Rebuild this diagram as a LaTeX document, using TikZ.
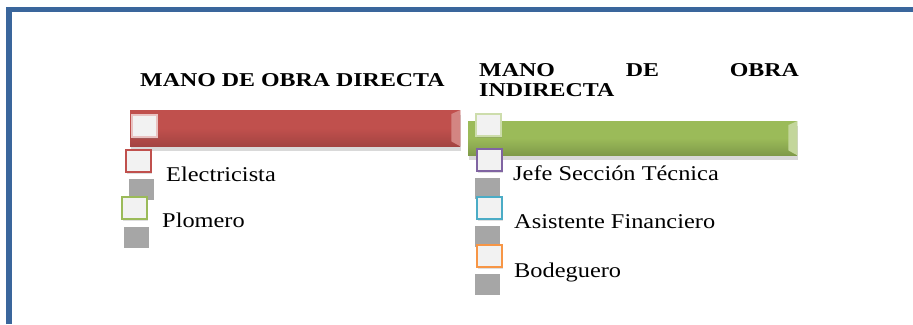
\documentclass[tikz,border=0pt]{standalone}
\usepackage{fontspec}
\setmainfont{Liberation Serif}
\usetikzlibrary{shadows}

\definecolor{frameblue}{HTML}{3A669C}
\definecolor{barred}{HTML}{C0504D}
\definecolor{bargreen}{HTML}{9BBB59}
\definecolor{boxpurple}{HTML}{8064A2}
\definecolor{boxcyan}{HTML}{4BACC6}
\definecolor{boxorange}{HTML}{F79646}

\begin{document}
\begin{tikzpicture}[x=1pt,y=-1pt]
	\tikzstyle{every node}+=[inner sep=0pt]
	\tikzstyle{bar}=[rectangle, anchor=north west, drop shadow={shadow xshift=1pt,shadow yshift=-5pt,opacity=0.3}]
	\tikzstyle{tick}=[rectangle, anchor=north west, fill=black!5, line width=1.6pt, minimum width=25pt, minimum height=22pt, drop shadow={shadow xshift=1pt,shadow yshift=-2pt,opacity=0.25}]
	\tikzstyle{blank}=[rectangle, anchor=north west, fill=black!35, minimum width=25pt, minimum height=21pt]
	\tikzstyle{lbl}=[anchor=base west, font=\fontsize{21}{24}\selectfont, xscale=1.16, transform shape]
	\tikzstyle{head}=[anchor=base west, font=\fontsize{19.6}{20}\selectfont\bfseries, xscale=1.22, transform shape]
	\useasboundingbox (0,0) rectangle (913,324);
	% frame
	\draw [frameblue, line width=5.5pt] (9,324) -- (9,9.5) -- (913,9.5);
	% titles
	\node [head] (dirtitle) at (140,86) {MANO DE OBRA DIRECTA};
	\node [head, text width=262pt, align=left] (indtitle) at (479,76) {MANO\hfill DE\hfill OBRA\\INDIRECTA};
	% bars
	\node [bar, top color=barred, bottom color=barred!85!black, middle color=barred, minimum width=330pt, minimum height=36pt] (dirbar) at (130,110) {};
	\fill [barred!70!white] ([xshift=-9pt,yshift=-4pt]dirbar.north east) -- (dirbar.north east) -- (dirbar.south east) -- ([xshift=-9pt,yshift=5pt]dirbar.south east) -- cycle;
	\node [bar, top color=bargreen, bottom color=bargreen!82!black, middle color=bargreen, minimum width=329pt, minimum height=34pt] (indbar) at (468,121) {};
	\fill [bargreen!60!white] ([xshift=-9pt,yshift=-4pt]indbar.north east) -- (indbar.north east) -- (indbar.south east) -- ([xshift=-9pt,yshift=5pt]indbar.south east) -- cycle;
	% grey gaps
	\node [blank] (elecgap) at (129,179) {};
	\node [blank] (plomgap) at (124,227) {};
	\node [blank] (jefegap) at (475,178) {};
	\node [blank] (asisgap) at (475,226) {};
	\node [blank] (bodegap) at (475,274) {};
	% marks
	\node [tick, draw=barred!35!white] (dirmark) at (131,114) {};
	\node [tick, draw=barred] (elecmark) at (125,149) {};
	\node [tick, draw=bargreen] (plommark) at (121,196) {};
	\node [tick, draw=bargreen!50!white] (indmark) at (475,113) {};
	\node [tick, draw=boxpurple] (jefemark) at (476,148) {};
	\node [tick, draw=boxcyan] (asismark) at (476,196) {};
	\node [tick, draw=boxorange] (bodemark) at (476,244) {};
	% labels
	\node [lbl] (elec) at (166,181) {Electricista};
	\node [lbl] (plom) at (162,227) {Plomero};
	\node [lbl] (jefe) at (513,180) {Jefe Sección Técnica};
	\node [lbl] (asis) at (514,228) {Asistente Financiero};
	\node [lbl] (bode) at (514,277) {Bodeguero};
\end{tikzpicture}
\end{document}
